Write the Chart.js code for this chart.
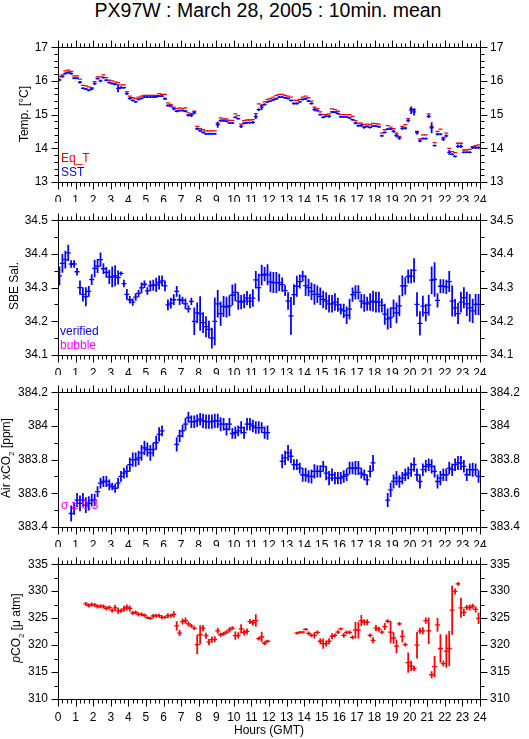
<!DOCTYPE html>
<html>
<head>
<meta charset="utf-8">
<script src="https://cdn.jsdelivr.net/npm/chart.js@4.4.1/dist/chart.umd.min.js"></script>
<style>
  body { margin: 0; background: #fff; }
  #page { position: relative; width: 529px; height: 739px; overflow: hidden; font-family: "Liberation Sans", Arial, sans-serif; color: #000; }
  canvas { position: absolute; left: 0; }
  .lbl { position: absolute; font-size: 12px; line-height: 12px; white-space: nowrap; }
  .ytitle { position: absolute; font-size: 12px; line-height: 13px; white-space: nowrap; transform: translate(-50%, -50%) rotate(-90deg); }
</style>
</head>
<body>
<div id="page">
  <div class="lbl" style="left:0;width:536px;top:0px;text-align:center;font-size:19.5px;line-height:21px;">PX97W : March 28, 2005 : 10min. mean</div>

  <canvas id="cTemp" width="529" height="172" style="top:30px"></canvas>
  <canvas id="cSal" width="529" height="172" style="top:203px"></canvas>
  <canvas id="cAir" width="529" height="172" style="top:375px"></canvas>
  <canvas id="cPco2" width="529" height="192" style="top:547px"></canvas>

  <div class="ytitle" style="left:24px;top:114px">Temp. [°C]</div>
  <div class="ytitle" style="left:14px;top:286px">SBE Sal.</div>
  <div class="ytitle" style="left:9px;top:458px">Air xCO<sub style="font-size:8px">2</sub> [ppm]</div>
  <div class="ytitle" style="left:19px;top:628px"><i>p</i>CO<sub style="font-size:8px">2</sub> [μ atm]</div>

  <div class="lbl" style="left:61px;top:152px;color:#f00">Eq_T</div>
  <div class="lbl" style="left:61px;top:166px;color:#00f">SST</div>
  <div class="lbl" style="left:60px;top:325px;color:#00f">verified</div>
  <div class="lbl" style="left:60px;top:339px;color:#f0f">bubble</div>
  <div class="lbl" style="left:61px;top:499px;color:#f0f">σ ≥ 0.3</div>

  <div class="lbl" style="left:0;width:538px;top:724px;text-align:center">Hours (GMT)</div>
</div>

<script>
// 10-minute mean slots, one row per hour (6 values each)
const HOURS = Array.from({ length: 144 }, (_, i) => (i + 0.5) / 6);

const eqT = [
  16.13, 16.18, 16.30, 16.32, 16.28, 16.15,
  16.15, 16.05, 15.87, 15.85, 15.82, 15.80,
  15.98, 16.12, 16.12, 16.18, 16.10, 16.02,
  16.00, 15.97, 15.95, 15.88, 15.88, 15.68,
  15.55, 15.50, 15.48, 15.52, 15.55, 15.57,
  15.57, 15.57, 15.57, 15.57, 15.62, 15.60,
  15.60, 15.35, 15.30, 15.22, 15.18, 15.20,
  15.18, 15.20, 15.05, 15.02, 15.10, 14.65,
  14.58, 14.55, 14.52, 14.52, 14.52, 14.52,
  14.75, 14.90, 14.87, 14.87, 14.83, 14.83,
  15.02, 14.97, 14.72, 14.82, 14.84, 14.84,
  14.85, 15.03, 15.32, 15.28, 15.38, 15.45,
  15.48, 15.52, 15.57, 15.60, 15.60, 15.57,
  15.55, 15.52, 15.42, 15.42, 15.45, 15.52,
  15.55, 15.50, 15.40, 15.22, 15.18, 15.08,
  15.00, 15.00, 15.02, 15.17, 15.15, 15.10,
  15.00, 15.00, 15.00, 15.00, 14.95, 14.82,
  14.75, 14.75, 14.70, 14.72, 14.70, 14.74,
  14.73, 14.72, 14.45, 14.55, 14.67, 14.63,
  14.58, 14.45, 14.35, 14.65, 14.70, 14.88,
  15.17, 15.15, 14.50, 14.28, 14.40, 14.40,
  15.02, 14.65, 14.17, 14.50, 14.57, 14.32,
  14.45, 14.00, 13.90, 13.87, 14.15, 14.15,
  13.95, 13.95, 13.97, 14.05, 14.08, 14.10
];

const sst = [
  16.03, 16.13, 16.22, 16.25, 16.22, 16.08,
  16.08, 15.96, 15.78, 15.76, 15.72, 15.76,
  15.92, 16.07, 16.00, 16.10, 16.02, 15.95,
  15.92, 15.90, 15.78, 15.80, 15.80, 15.62,
  15.48, 15.42, 15.38, 15.45, 15.48, 15.52,
  15.52, 15.52, 15.52, 15.53, 15.55, 15.55,
  15.47, 15.27, 15.25, 15.17, 15.10, 15.12,
  15.12, 15.10, 14.98, 14.98, 15.05, 14.58,
  14.52, 14.47, 14.43, 14.43, 14.43, 14.43,
  14.70, 14.82, 14.82, 14.80, 14.75, 14.75,
  14.92, 14.88, 14.65, 14.74, 14.76, 14.76,
  14.77, 14.94, 15.15, 15.22, 15.30, 15.38,
  15.40, 15.44, 15.47, 15.52, 15.52, 15.50,
  15.48, 15.42, 15.33, 15.33, 15.38, 15.45,
  15.47, 15.40, 15.33, 15.15, 15.12, 15.00,
  14.92, 14.95, 14.95, 15.08, 15.07, 15.03,
  14.93, 14.93, 14.93, 14.90, 14.85, 14.75,
  14.67, 14.68, 14.62, 14.65, 14.62, 14.66,
  14.66, 14.64, 14.37, 14.47, 14.57, 14.57,
  14.50, 14.38, 14.30, 14.59, 14.60, 14.82,
  15.13, 15.08, 14.46, 14.22, 14.29, 14.29,
  14.95, 14.61, 14.08, 14.42, 14.42, 14.27,
  14.37, 13.88, 13.82, 13.76, 14.06, 14.06,
  13.88, 13.88, 13.88, 14.02, 14.02, 14.02
];

const sstErr = [
  .03, .02, .02, .02, .02, .02,
  .02, .03, .02, .02, .02, .02,
  .03, .02, .03, .02, .02, .02,
  .02, .02, .11, .03, .02, .03,
  .03, .02, .02, .02, .02, .02,
  .02, .02, .02, .02, .02, .02,
  .03, .02, .02, .03, .02, .02,
  .02, .02, .03, .04, .03, .03,
  .02, .02, .02, .02, .02, .02,
  .08, .03, .02, .02, .02, .02,
  .02, .02, .04, .02, .02, .02,
  .03, .06, .03, .07, .02, .02,
  .02, .02, .02, .02, .02, .02,
  .02, .02, .02, .02, .02, .02,
  .02, .02, .02, .04, .02, .02,
  .02, .02, .03, .02, .02, .02,
  .02, .02, .02, .02, .02, .03,
  .03, .04, .03, .02, .02, .02,
  .02, .02, .02, .02, .02, .02,
  .03, .05, .04, .04, .03, .04,
  .10, .10, .04, .03, .02, .02,
  .04, .15, .02, .03, .02, .04,
  .03, .06, .02, .02, .04, .04,
  .02, .02, .02, .03, .03, .03
];

const salinity = [
  34.335, 34.372, 34.383, 34.403, 34.370, 34.370,
  34.347, 34.300, 34.280, 34.273, 34.289, 34.324,
  34.357, 34.364, 34.383, 34.356, 34.345, 34.332,
  34.332, 34.335, 34.330, 34.342, 34.312, 34.280,
  34.264, 34.257, 34.272, 34.283, 34.299, 34.310,
  34.290, 34.305, 34.307, 34.308, 34.315, 34.320,
  34.305, 34.249, 34.254, 34.264, 34.289, 34.264,
  34.262, 34.252, 34.237, 34.259, 34.200, 34.225,
  34.223, 34.196, 34.184, 34.176, 34.150, 34.200,
  34.252, 34.223, 34.244, 34.242, 34.246, 34.278,
  34.286, 34.260, 34.257, 34.260, 34.269, 34.260,
  34.269, 34.323, 34.300, 34.337, 34.340, 34.338,
  34.317, 34.315, 34.315, 34.315, 34.309, 34.291,
  34.260, 34.216, 34.279, 34.304, 34.318, 34.334,
  34.306, 34.300, 34.289, 34.280, 34.280, 34.274,
  34.265, 34.260, 34.252, 34.252, 34.257, 34.249,
  34.236, 34.231, 34.218, 34.236, 34.279, 34.286,
  34.286, 34.260, 34.254, 34.252, 34.257, 34.260,
  34.257, 34.257, 34.247, 34.221, 34.207, 34.211,
  34.239, 34.225, 34.246, 34.305, 34.305, 34.333,
  34.334, 34.351, 34.250, 34.194, 34.245, 34.226,
  34.248, 34.322, 34.324, 34.262, 34.304, 34.304,
  34.302, 34.318, 34.260, 34.240, 34.223, 34.257,
  34.270, 34.252, 34.240, 34.231, 34.250, 34.250
];

const salErr = [
  .027, .027, .025, .023, .010, .010,
  .010, .020, .020, .027, .015, .015,
  .025, .020, .020, .015, .015, .020,
  .030, .030, .020, .005, .010, .015,
  .010, .010, .010, .010, .015, .010,
  .010, .015, .015, .020, .020, .015,
  .015, .015, .015, .015, .015, .015,
  .010, .015, .010, .010, .040, .030,
  .050, .030, .030, .025, .030, .070,
  .040, .035, .030, .030, .030, .030,
  .025, .025, .020, .020, .020, .020,
  .025, .025, .040, .030, .020, .030,
  .030, .030, .030, .025, .020, .015,
  .025, .055, .030, .030, .020, .015,
  .030, .025, .025, .030, .025, .025,
  .025, .025, .025, .025, .025, .020,
  .015, .020, .025, .030, .020, .020,
  .020, .020, .025, .020, .025, .030,
  .030, .030, .020, .030, .030, .030,
  .025, .030, .030, .030, .025, .020,
  .020, .035, .035, .035, .030, .025,
  .030, .040, .050, .020, .020, .020,
  .020, .030, .045, .025, .030, .030,
  .030, .035, .040, .035, .030, .030
];

const airXco2 = [
  null, null, null, null, 383.48, 383.51,
  383.56, 383.54, 383.56, 383.53, 383.54, 383.56,
  383.56, 383.61, 383.66, 383.67, 383.67, 383.65,
  383.64, 383.63, 383.66, 383.70, 383.72, 383.73,
  383.77, 383.80, 383.80, 383.81, 383.84, 383.87,
  383.86, 383.84, 383.86, 383.90, 383.95, 383.97,
  null, null, null, null, 383.89, 383.94,
  383.97, 384.01, 384.05, 384.025, 384.025, 384.03,
  384.04, 384.03, 384.025, 384.025, 384.025, 384.03,
  384.03, 384.01, 384.01, 383.98, 384.01, 383.955,
  383.96, 383.97, 383.99, 383.96, 384.01, 384.01,
  384.00, 383.99, 383.99, 383.99, 383.96, 383.96,
  null, null, null, null, 383.79, 383.81,
  383.84, 383.82, 383.77, 383.77, 383.75, 383.71,
  383.71, 383.70, 383.70, 383.73, 383.73, 383.73,
  383.76, 383.72, 383.69, 383.71, 383.69, 383.69,
  383.69, 383.70, 383.71, 383.75, 383.75, 383.75,
  383.75, 383.72, 383.71, 383.68, 383.73, 383.78,
  null, null, null, null, 383.56, 383.62,
  383.67, 383.69, 383.67, 383.69, 383.71, 383.72,
  383.74, 383.77, 383.71, 383.67, 383.74, 383.76,
  383.77, 383.76, 383.73, 383.67, 383.69, 383.71,
  383.71, 383.75, 383.74, 383.77, 383.78, 383.78,
  383.76, 383.71, 383.74, 383.74, 383.74, 383.70
];

const airErr = [
  null, null, null, null, .045, .035,
  .040, .045, .040, .045, .040, .035,
  .035, .030, .030, .030, .030, .030,
  .020, .025, .030, .030, .030, .035,
  .040, .040, .040, .040, .045, .040,
  .040, .045, .040, .040, .040, .030,
  null, null, null, null, .040, .035,
  .035, .035, .030, .035, .035, .035,
  .035, .040, .040, .040, .040, .040,
  .040, .040, .035, .035, .035, .030,
  .035, .030, .035, .035, .035, .035,
  .035, .035, .035, .030, .035, .040,
  null, null, null, null, .040, .040,
  .045, .040, .030, .030, .030, .040,
  .040, .035, .040, .040, .035, .035,
  .030, .040, .040, .035, .035, .035,
  .035, .035, .035, .035, .035, .040,
  .040, .030, .030, .030, .035, .045,
  null, null, null, null, .040, .040,
  .040, .040, .035, .035, .035, .035,
  .040, .040, .035, .040, .035, .035,
  .035, .040, .035, .040, .040, .035,
  .035, .035, .035, .035, .040, .040,
  .035, .035, .035, .040, .035, .035
];

const pco2 = [
  null, null, null, null, null, null,
  null, null, null, 327.64, 327.34, 327.52,
  327.46, 327.15, 327.20, 327.15, 326.79, 326.97,
  326.42, 326.91, 326.36, 326.36, 326.73, 326.97,
  326.79, 325.94, 326.06, 325.69, 325.69, 325.51,
  325.09, 324.96, 325.39, 325.45, 325.45, 325.15,
  325.15, 325.45, 325.45, 325.69, 323.56, 322.23,
  324.36, 324.54, 323.93, 323.56, 323.14, 320.10,
  321.92, 323.14, 321.74, 320.58, 321.01, 321.07,
  322.65, 321.92, 322.10, 322.41, 322.83, 323.14,
  321.74, 321.80, 323.02, 322.35, 322.53, 324.36,
  324.17, 324.54, 321.19, 321.50, 320.34, 320.71,
  null, null, null, null, null, null,
  null, null, null, 322.23, 322.35, 322.41,
  322.90, 322.17, 321.80, 321.80, 322.35, 320.71,
  320.28, 320.28, 320.71, 321.62, 321.80, 322.41,
  323.02, 321.80, 322.35, 322.35, 321.44, 322.77,
  322.77, 324.54, 324.23, 324.23, 321.80, 320.89,
  323.14, 322.96, 322.41, 323.44, 324.42, 322.41,
  321.31, 319.79, 323.93, 321.62, 320.10, 316.75,
  316.14, 315.66, 319.98, 322.65, 322.65, 324.54,
  322.65, 314.50, 316.02, 323.75, 319.37, 316.57,
  318.88, 319.37, 326.48, 329.95, 331.35, 326.91,
  326.06, 326.97, 326.97, 327.21, 326.61, 324.96
];

const pco2Err = [
  null, null, null, null, null, null,
  null, null, null, .3, .3, .3,
  .3, .3, .3, .3, .3, .3,
  .3, .5, .5, .3, .5, .5,
  .5, .3, .3, .3, .3, .3,
  .2, .2, .3, .3, .3, .3,
  .2, .4, .3, .5, .8, .5,
  .5, .5, .4, .3, .3, 1.7,
  1.7, .5, .5, .5, .5, .5,
  .5, .3, .3, .3, .4, .3,
  .7, .5, .8, .5, .5, .4,
  .5, 1.1, .3, .9, .3, .2,
  null, null, null, null, null, null,
  null, null, null, .2, .2, .2,
  .2, .3, .3, .5, .3, .5,
  .9, .5, .5, .5, .3, .3,
  .2, .4, .3, .3, .3, 1.5,
  1.5, 1.0, .5, .5, .3, .5,
  .5, .4, .3, .6, .3, 2.0,
  1.0, 1.2, .3, 1.1, .3, 1.8,
  .9, .4, 2.4, .5, .6, .5,
  2.4, .6, 1.9, 1.2, 2.6, .5,
  3.0, 3.2, 4.5, .5, .3, 1.8,
  .6, .4, .5, .4, .5, 1.0
];

const RED = '#ff0000', BLUE = '#0000ff';
Chart.defaults.font.family = "'Liberation Sans', Arial, sans-serif";
Chart.defaults.font.size = 12;
Chart.defaults.color = '#000';

function marks(vals) {
  const out = [];
  vals.forEach((v, i) => { if (v !== null) out.push({ x: HOURS[i], y: v }); });
  return out;
}

function spans(vals, errs) {
  const out = [];
  vals.forEach((v, i) => { if (v !== null) out.push({ x: HOURS[i], y: [v - errs[i], v + errs[i]] }); });
  return out;
}

function dashSet(data, color, r, order) {
  return { type: 'scatter', data, pointStyle: 'line', pointRadius: r, pointBorderWidth: 1.3,
           pointBorderColor: color, pointBackgroundColor: color, order };
}

function barSet(data, color, order) {
  return { type: 'bar', data, backgroundColor: color, borderWidth: 0, barThickness: 1.1, grouped: false, order };
}

// frame with major/minor tick marks pointing outward on all four sides
const frameTicks = {
  id: 'frameTicks',
  afterDatasetsDraw(chart, args, opts) {
    const { ctx, chartArea: a, scales: { x, y } } = chart;
    const L = Math.round(a.left) + 0.5, R = Math.round(a.right) + 0.5;
    const T = Math.round(a.top) + 0.5, B = Math.round(a.bottom) + 0.5;
    ctx.save();
    ctx.strokeStyle = '#000';
    ctx.lineWidth = 1;
    ctx.beginPath();
    ctx.rect(L, T, R - L, B - T);
    for (let k = 0; k <= 96; k++) {
      const px = Math.round(x.getPixelForValue(k / 4)) + 0.5;
      const len = k % 4 === 0 ? 7 : 4;
      ctx.moveTo(px, T); ctx.lineTo(px, T - len);
      ctx.moveTo(px, B); ctx.lineTo(px, B + len);
    }
    const n = Math.round((y.max - y.min) / opts.minor);
    for (let k = 0; k <= n; k++) {
      const py = Math.round(y.getPixelForValue(y.min + k * opts.minor)) + 0.5;
      const len = k % opts.every === 0 ? 7 : 4;
      ctx.moveTo(L, py); ctx.lineTo(L - len, py);
      ctx.moveTo(R, py); ctx.lineTo(R + len, py);
    }
    ctx.stroke();
    ctx.restore();
  }
};

function makePanel(id, datasets, yMin, yMax, major, minor, every, bottomH) {
  const yTicks = { stepSize: major, padding: 10, color: '#000',
                   callback: v => String(Math.round(v * 100) / 100) };
  new Chart(document.getElementById(id), {
    type: 'scatter',
    data: { datasets },
    options: {
      responsive: false,
      animation: false,
      devicePixelRatio: 1,
      events: [],
      layout: { padding: { top: 14, left: 0, right: 0, bottom: 0 } },
      plugins: { legend: { display: false }, tooltip: { enabled: false }, frameTicks: { minor, every } },
      scales: {
        x: {
          type: 'linear', position: 'bottom', min: 0, max: 24, offset: false,
          grid: { display: false, drawTicks: false }, border: { display: false },
          ticks: { stepSize: 1, autoSkip: false, maxRotation: 0, padding: 11, color: '#000' },
          afterFit: s => { s.height = bottomH; }
        },
        y: {
          type: 'linear', position: 'left', min: yMin, max: yMax,
          grid: { display: false, drawTicks: false }, border: { display: false },
          ticks: yTicks,
          afterFit: s => { s.width = 58; }
        },
        yR: {
          type: 'linear', position: 'right', min: yMin, max: yMax,
          grid: { display: false, drawTicks: false }, border: { display: false },
          ticks: yTicks,
          afterFit: s => { s.width = 49; }
        }
      }
    },
    plugins: [frameTicks]
  });
}

makePanel('cTemp', [
  dashSet(marks(sst), BLUE, 2, 0),
  barSet(spans(sst, sstErr), BLUE, 1),
  dashSet(marks(eqT), RED, 2, 2)
], 13, 17, 1, 0.2, 5, 20);

makePanel('cSal', [
  dashSet(marks(salinity), BLUE, 2.5, 0),
  barSet(spans(salinity, salErr), BLUE, 1)
], 34.1, 34.5, 0.1, 0.05, 2, 20);

makePanel('cAir', [
  dashSet(marks(airXco2), BLUE, 2.5, 0),
  barSet(spans(airXco2, airErr), BLUE, 1)
], 383.4, 384.2, 0.2, 0.1, 2, 20);

makePanel('cPco2', [
  dashSet(marks(pco2), RED, 2.5, 0),
  barSet(spans(pco2, pco2Err), RED, 1)
], 310, 335, 5, 2.5, 2, 40);
</script>
</body>
</html>
